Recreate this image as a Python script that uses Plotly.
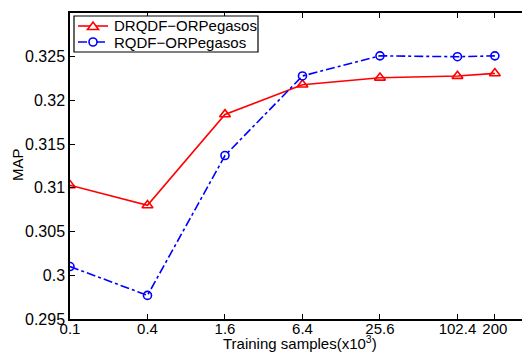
import plotly.graph_objects as go

samples = [0.1, 0.4, 1.6, 6.4, 25.6, 102.4, 200]
tick_labels = ["0.1", "0.4", "1.6", "6.4", "25.6", "102.4", "200"]
drqdf = [0.3103, 0.3080, 0.3184, 0.3218, 0.3226, 0.3228, 0.3231]
rqdf = [0.3010, 0.2977, 0.3137, 0.3228, 0.3251, 0.3250, 0.3251]
y_ticks = [0.295, 0.30, 0.305, 0.31, 0.315, 0.32, 0.325, 0.33]
y_tick_labels = ["0.295", "0.3", "0.305", "0.31", "0.315", "0.32", "0.325", "0.33"]
series_names = ["DRQDF\u2212ORPegasos", "RQDF\u2212ORPegasos"]

RED = "#ff0000"
BLUE = "#0000ff"

fig = go.Figure()
fig.add_trace(go.Scatter(
    x=samples, y=drqdf, name=series_names[0], mode="lines+markers",
    line=dict(color=RED, width=1.6),
    marker=dict(symbol="triangle-up-open", size=9.5, color=RED, line=dict(width=1.6)),
))
fig.add_trace(go.Scatter(
    x=samples, y=rqdf, name=series_names[1], mode="lines+markers",
    line=dict(color=BLUE, width=1.6, dash="dashdot"),
    marker=dict(symbol="circle-open", size=8, color=BLUE, line=dict(width=1.6)),
))

# plot area in page pixels (body margin 8px compensated by size/margins)
PX0, PX1, PY0, PY1 = 70, 530, 13, 319
def px(x):
    return (x - PX0) / (PX1 - PX0)
def py(y):
    return (PY1 - y) / (PY1 - PY0)

# hand-built legend (MATLAB-style compact)
shapes = [
    dict(type="rect", xref="paper", yref="paper", x0=px(74), x1=px(258), y0=py(52), y1=py(16),
         line=dict(color="black", width=1.2), fillcolor="white", layer="above"),
    dict(type="line", xref="paper", yref="paper", x0=px(78), x1=px(108), y0=py(26), y1=py(26),
         line=dict(color=RED, width=1.6), layer="above"),
    dict(type="path", xref="paper", yref="paper",
         path=f"M {px(87.5)} {py(29.5)} L {px(98.5)} {py(29.5)} L {px(93)} {py(22)} Z",
         line=dict(color=RED, width=1.6), fillcolor="white", layer="above"),
    dict(type="line", xref="paper", yref="paper", x0=px(78), x1=px(108), y0=py(42), y1=py(42),
         line=dict(color=BLUE, width=1.6, dash="dashdot"), layer="above"),
    dict(type="circle", xref="paper", yref="paper", x0=px(89), x1=px(97), y0=py(46), y1=py(38),
         line=dict(color=BLUE, width=1.6), fillcolor="white", layer="above"),
]

annotations = [
    dict(text=series_names[0], xref="paper", yref="paper", x=px(112), y=py(26),
         xanchor="left", yanchor="middle", showarrow=False, font=dict(size=15)),
    dict(text=series_names[1], xref="paper", yref="paper", x=px(112), y=py(42),
         xanchor="left", yanchor="middle", showarrow=False, font=dict(size=15)),
    dict(text="Training samples(x10<sup>3</sup>)", xref="paper", yref="paper",
         x=px(300), y=py(354), xanchor="center", yanchor="bottom",
         showarrow=False, font=dict(size=15)),
    dict(text="MAP", xref="paper", yref="paper", textangle=-90,
         x=px(17), y=py(165), xanchor="center", yanchor="middle",
         showarrow=False, font=dict(size=15)),
]

font = dict(family="Liberation Sans, Arial, sans-serif", size=16, color="black")
fig.update_layout(
    width=522, height=346,
    margin=dict(l=62, r=0, t=5, b=35),
    paper_bgcolor="white", plot_bgcolor="white",
    font=font,
    showlegend=False,
    xaxis=dict(
        type="log", range=[-1, 2.574],
        tickvals=samples, ticktext=tick_labels,
        ticks="inside", ticklen=5, tickcolor="black",
        showline=True, linecolor="black", linewidth=1.5, mirror="ticks",
        showgrid=False, zeroline=False,
        automargin=False, tickfont=dict(size=15),
        ticklabelstandoff=-5,
    ),
    yaxis=dict(
        range=[0.295, 0.33], tickvals=y_ticks, ticktext=y_tick_labels,
        ticks="inside", ticklen=5, tickcolor="black",
        showline=True, linecolor="black", linewidth=1.5, mirror=False,
        showgrid=False, zeroline=False,
        automargin=False,
    ),
    shapes=shapes,
    annotations=annotations,
)

fig.write_html("out.html")
